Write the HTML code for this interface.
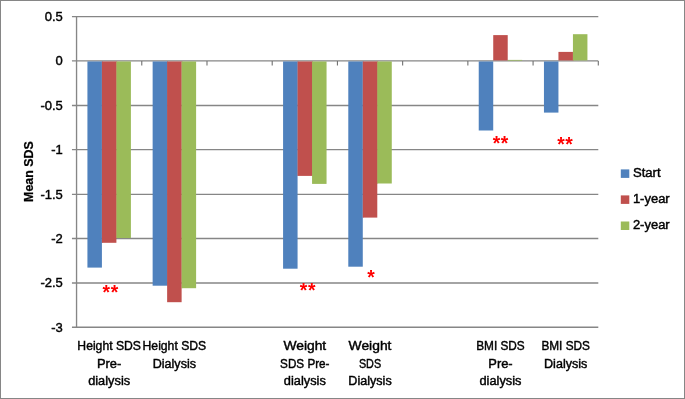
<!DOCTYPE html>
<html lang="en"><head><meta charset="utf-8"><title>Mean SDS chart</title>
<style>html,body{margin:0;padding:0;background:#fff;}body{width:685px;height:399px;overflow:hidden;}svg{display:block;}text{font-family:"Liberation Sans", Arial, sans-serif;}</style>
</head><body>
<svg width="685" height="399" viewBox="0 0 685 399">
<rect x="0" y="0" width="685" height="399" fill="#ffffff"/>
<rect x="0.5" y="0.5" width="684" height="398" fill="none" stroke="#868686" stroke-width="1"/>
<g stroke="#868686" stroke-width="1.35" fill="none">
<line x1="71.95" y1="16.65" x2="598.30" y2="16.65"/>
<line x1="71.95" y1="60.90" x2="598.30" y2="60.90"/>
<line x1="71.95" y1="105.50" x2="598.30" y2="105.50"/>
<line x1="71.95" y1="149.55" x2="598.30" y2="149.55"/>
<line x1="71.95" y1="194.30" x2="598.30" y2="194.30"/>
<line x1="71.95" y1="238.50" x2="598.30" y2="238.50"/>
<line x1="71.95" y1="282.95" x2="598.30" y2="282.95"/>
<line x1="71.95" y1="327.20" x2="598.30" y2="327.20"/>
<line x1="76.55" y1="16.50" x2="76.55" y2="327.20"/>
<line x1="141.77" y1="60.90" x2="141.77" y2="65.40" stroke="#707070" stroke-width="1.1"/>
<line x1="206.99" y1="60.90" x2="206.99" y2="65.40" stroke="#707070" stroke-width="1.1"/>
<line x1="272.21" y1="60.90" x2="272.21" y2="65.40" stroke="#707070" stroke-width="1.1"/>
<line x1="337.43" y1="60.90" x2="337.43" y2="65.40" stroke="#707070" stroke-width="1.1"/>
<line x1="402.64" y1="60.90" x2="402.64" y2="65.40" stroke="#707070" stroke-width="1.1"/>
<line x1="467.86" y1="60.90" x2="467.86" y2="65.40" stroke="#707070" stroke-width="1.1"/>
<line x1="533.08" y1="60.90" x2="533.08" y2="65.40" stroke="#707070" stroke-width="1.1"/>
<line x1="598.30" y1="60.90" x2="598.30" y2="65.40" stroke="#707070" stroke-width="1.1"/>
</g>
<rect x="87.42" y="61.45" width="14.49" height="206.15" fill="#4F81BD"/>
<rect x="101.86" y="61.45" width="0.80" height="181.35" fill="#4F81BD"/>
<rect x="101.91" y="61.45" width="14.49" height="181.35" fill="#C0504D"/>
<rect x="116.36" y="61.45" width="0.80" height="176.55" fill="#C0504D"/>
<rect x="116.41" y="61.45" width="14.49" height="176.55" fill="#9BBB59"/>
<rect x="152.64" y="61.45" width="14.49" height="224.25" fill="#4F81BD"/>
<rect x="167.08" y="61.45" width="0.80" height="224.25" fill="#4F81BD"/>
<rect x="167.13" y="61.45" width="14.49" height="240.75" fill="#C0504D"/>
<rect x="181.57" y="61.45" width="0.80" height="226.75" fill="#C0504D"/>
<rect x="181.62" y="61.45" width="14.49" height="226.75" fill="#9BBB59"/>
<rect x="283.08" y="61.45" width="14.49" height="207.25" fill="#4F81BD"/>
<rect x="297.52" y="61.45" width="0.80" height="114.45" fill="#4F81BD"/>
<rect x="297.57" y="61.45" width="14.49" height="114.45" fill="#C0504D"/>
<rect x="312.01" y="61.45" width="0.80" height="114.45" fill="#C0504D"/>
<rect x="312.06" y="61.45" width="14.49" height="122.45" fill="#9BBB59"/>
<rect x="348.29" y="61.45" width="14.49" height="205.25" fill="#4F81BD"/>
<rect x="362.74" y="61.45" width="0.80" height="156.15" fill="#4F81BD"/>
<rect x="362.79" y="61.45" width="14.49" height="156.15" fill="#C0504D"/>
<rect x="377.23" y="61.45" width="0.80" height="122.05" fill="#C0504D"/>
<rect x="377.28" y="61.45" width="14.49" height="122.05" fill="#9BBB59"/>
<rect x="478.73" y="61.45" width="14.49" height="69.05" fill="#4F81BD"/>
<rect x="493.23" y="35.10" width="14.49" height="25.35" fill="#C0504D"/>
<rect x="507.72" y="59.90" width="14.49" height="0.70" fill="#9BBB59"/>
<rect x="543.95" y="61.45" width="14.49" height="51.15" fill="#4F81BD"/>
<rect x="558.44" y="51.90" width="14.49" height="8.55" fill="#C0504D"/>
<rect x="572.89" y="51.90" width="0.80" height="8.55" fill="#C0504D"/>
<rect x="572.94" y="34.20" width="14.49" height="26.25" fill="#9BBB59"/>
<g font-size="13" fill="#000" stroke="#000" stroke-width="0.42" text-anchor="end">
<text x="62.85" y="21">0.5</text>
<text x="62.85" y="65">0</text>
<text x="62.85" y="110">-0.5</text>
<text x="62.85" y="154">-1</text>
<text x="62.85" y="199">-1.5</text>
<text x="62.85" y="243">-2</text>
<text x="62.85" y="287">-2.5</text>
<text x="62.85" y="332">-3</text>
</g>
<text transform="translate(33.45,171.6) rotate(-90)" font-size="13.4" font-weight="bold" text-anchor="middle" textLength="60.6" lengthAdjust="spacingAndGlyphs" fill="#000" stroke="#000" stroke-width="0.25">Mean SDS</text>
<g font-size="12.5" fill="#000" stroke="#000" stroke-width="0.42" text-anchor="middle">
<text x="109.16" y="350" textLength="63.6" lengthAdjust="spacingAndGlyphs">Height SDS</text>
<text x="109.16" y="368" textLength="24.4" lengthAdjust="spacingAndGlyphs">Pre-</text>
<text x="109.16" y="385" textLength="42.0" lengthAdjust="spacingAndGlyphs">dialysis</text>
<text x="174.38" y="350" textLength="63.6" lengthAdjust="spacingAndGlyphs">Height SDS</text>
<text x="174.38" y="368" textLength="43.3" lengthAdjust="spacingAndGlyphs">Dialysis</text>
<text x="304.82" y="350" textLength="42.8" lengthAdjust="spacingAndGlyphs">Weight</text>
<text x="304.82" y="368" textLength="49.4" lengthAdjust="spacingAndGlyphs">SDS Pre-</text>
<text x="304.82" y="385" textLength="42.0" lengthAdjust="spacingAndGlyphs">dialysis</text>
<text x="370.03" y="350" textLength="42.8" lengthAdjust="spacingAndGlyphs">Weight</text>
<text x="370.03" y="368" textLength="22.2" lengthAdjust="spacingAndGlyphs">SDS</text>
<text x="370.03" y="385" textLength="43.3" lengthAdjust="spacingAndGlyphs">Dialysis</text>
<text x="500.47" y="350" textLength="48.6" lengthAdjust="spacingAndGlyphs">BMI SDS</text>
<text x="500.47" y="368" textLength="24.4" lengthAdjust="spacingAndGlyphs">Pre-</text>
<text x="500.47" y="385" textLength="42.0" lengthAdjust="spacingAndGlyphs">dialysis</text>
<text x="565.69" y="350" textLength="48.6" lengthAdjust="spacingAndGlyphs">BMI SDS</text>
<text x="565.69" y="368" textLength="43.3" lengthAdjust="spacingAndGlyphs">Dialysis</text>
</g>
<g font-size="19.3" font-weight="bold" fill="#FF0000" letter-spacing="0.65">
<text x="102.52" y="298.75">**</text>
<text x="299.87" y="296.95">**</text>
<text x="367.25" y="284.10">*</text>
<text x="492.72" y="149.95">**</text>
<text x="557.22" y="151.00">**</text>
</g>
<rect x="620.8" y="169.40" width="8.5" height="8.5" fill="#4F81BD"/>
<text x="632.9" y="177" font-size="12.5" fill="#000" stroke="#000" stroke-width="0.42" textLength="27.7" lengthAdjust="spacingAndGlyphs">Start</text>
<rect x="620.8" y="195.40" width="8.5" height="8.5" fill="#C0504D"/>
<text x="632.9" y="203" font-size="12.5" fill="#000" stroke="#000" stroke-width="0.42" textLength="36.8" lengthAdjust="spacingAndGlyphs">1-year</text>
<rect x="620.8" y="221.50" width="8.5" height="8.5" fill="#9BBB59"/>
<text x="632.9" y="229" font-size="12.5" fill="#000" stroke="#000" stroke-width="0.42" textLength="36.8" lengthAdjust="spacingAndGlyphs">2-year</text>
</svg>
</body></html>
